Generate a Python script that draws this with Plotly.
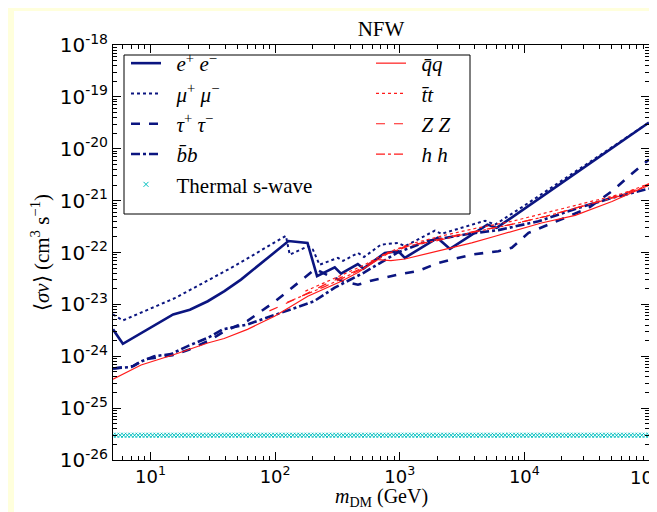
import numpy as np
import plotly.graph_objects as go

# ---------------- data ----------------
ee_x = [5, 6, 15.2, 20.7, 28.8, 39.2, 53.2, 128, 182, 217, 301, 338, 461, 511, 760, 970, 1100, 2010, 2530, 5050, 6000, 1e5]
ee_y = [3.3e-24, 1.74e-24, 6.4e-24, 7.9e-24, 1.15e-23, 1.8e-23, 3.0e-23, 1.66e-22, 1.53e-22, 3.5e-23, 5.2e-23, 3.9e-23,
        6.0e-23, 4.9e-23, 9.8e-23, 1.06e-22, 7.9e-23, 1.91e-22, 1.17e-22, 3.45e-22, 2.98e-22, 3.2e-20]

mu_x = [5, 6, 15.8, 46.7, 122, 131, 183, 201, 227, 319, 351, 463, 517, 708, 970, 1100, 1915, 2163, 4840, 5820, 1e4, 2.5e4, 1e5]
mu_y = [6.4e-24, 4.9e-24, 1.33e-23, 5.4e-23, 2.1e-22, 9.1e-23, 1.32e-22, 1.14e-22, 5.8e-23, 7.9e-23, 6.9e-23, 9.8e-23,
        8.2e-23, 1.42e-22, 1.53e-22, 1.32e-22, 2.64e-22, 2.29e-22, 4.1e-22, 3.45e-22, 8.0e-22, 3.5e-21, 3.2e-20]

tau_x = [5, 7.3, 8.9, 11.4, 15, 20.5, 28.8, 39, 60, 99, 183, 210, 274, 351, 462, 600, 970, 1400, 2040, 3780, 6190, 7930,
         10800, 15600, 22600, 32800, 50500, 69000, 1e5]
tau_y = [5.8e-25, 6.5e-25, 8.7e-25, 9.6e-25, 1.05e-24, 1.35e-24, 1.95e-24, 3.0e-24, 4.8e-24, 1.12e-23, 3.8e-23, 4.8e-23,
         3.5e-23, 2.8e-23, 2.4e-23, 2.9e-23, 3.75e-23, 4.4e-23, 6.3e-23, 9.1e-23, 1.06e-22, 1.23e-22, 2.39e-22, 3.45e-22,
         5.0e-22, 7.2e-22, 1.52e-21, 2.95e-21, 6.2e-21]

bb_x = [5, 7, 8.5, 10.7, 14.6, 19.9, 28.8, 38, 60, 99, 204, 301, 517, 964, 1660, 3600, 6200, 13000, 27000, 50000, 1e5]
bb_y = [5.8e-25, 6.2e-25, 8.0e-25, 1.0e-24, 1.1e-24, 1.57e-24, 2.26e-24, 3.3e-24, 4.1e-24, 6.3e-24, 1.14e-23, 2.1e-23,
        4.1e-23, 1.0e-22, 1.66e-22, 2.3e-22, 2.7e-22, 4.0e-22, 7.2e-22, 1.12e-21, 1.7e-21]

qq_x = [5, 8.4, 15.5, 28.8, 39, 60, 99, 183, 340, 462, 670, 850, 1100, 2036, 3780, 5820, 13700, 25600, 50500, 1e5]
qq_y = [3.6e-25, 6.8e-25, 1.08e-24, 1.8e-24, 2.2e-24, 3.3e-24, 5.9e-24, 1.44e-23, 2.8e-23, 4.1e-23, 7.3e-23, 7.0e-23,
        7.5e-23, 1.06e-22, 1.53e-22, 2.06e-22, 3.7e-22, 5.2e-22, 9.6e-22, 2.0e-21]

tt_x = [175, 300, 500, 800, 1200, 2200, 4000, 8000, 15000, 30000, 60000, 1e5]
tt_y = [1.8e-23, 3.2e-23, 5.5e-23, 1.0e-22, 1.45e-22, 2.1e-22, 2.9e-22, 4.0e-22, 5.8e-22, 8.8e-22, 1.35e-21, 2.1e-21]

zz_x = [90, 150, 250, 500, 700, 1100, 2000, 3800, 7500, 15000, 30000, 60000, 1e5]
zz_y = [7.5e-24, 1.3e-23, 2.4e-23, 5.0e-23, 8.5e-23, 1.3e-22, 1.78e-22, 2.5e-22, 3.4e-22, 5.0e-22, 8.0e-22, 1.3e-21, 2.1e-21]

hh_x = [125, 250, 500, 800, 1200, 2000, 4000, 8000, 15000, 30000, 60000, 1e5]
hh_y = [1.1e-23, 2.2e-23, 4.8e-23, 9.5e-23, 1.35e-22, 1.7e-22, 2.5e-22, 3.5e-22, 5.0e-22, 7.8e-22, 1.25e-21, 2.0e-21]

thermal_value = 3.0e-26
thermal_x = np.logspace(np.log10(5), 5, 150)   # marker grid for the constant line

x_tickvals = [10, 100, 1000, 1e4, 1e5]
x_ticktext = ["10<sup>1</sup>", "10<sup>2</sup>", "10<sup>3</sup>", "10<sup>4</sup>", ""]
x_last_label = "10<sup>5</sup>"   # drawn separately so it stays inside the page
y_tickvals = [1e-26, 1e-25, 1e-24, 1e-23, 1e-22, 1e-21, 1e-20, 1e-19, 1e-18]
y_ticktext = ["10<sup>-26</sup>", "10<sup>-25</sup>", "10<sup>-24</sup>", "10<sup>-23</sup>", "10<sup>-22</sup>",
              "10<sup>-21</sup>", "10<sup>-20</sup>", "10<sup>-19</sup>", "10<sup>-18</sup>"]

# minor tick positions (2..9 within each decade)
x_minor = [m * 10.0 ** e for e in range(0, 5) for m in range(2, 10) if 5 <= m * 10.0 ** e <= 1e5]
y_minor = [m * 10.0 ** e for e in range(-26, -18) for m in range(2, 10)]

PAD = "\u00a0\u00a0"
names = {
    "ee": PAD + "<i>e</i><sup>+</sup> <i>e</i><sup>−</sup>",
    "mu": PAD + "<i>μ</i><sup>+</sup> <i>μ</i><sup>−</sup>",
    "tau": PAD + "<i>τ</i><sup>+</sup> <i>τ</i><sup>−</sup>",
    "bb": PAD + "<i>b̄b</i>",
    "th": PAD + "Thermal s-wave",
    "qq": PAD + "<i>q̄q</i>",
    "tt": PAD + "<i>t̄t</i>",
    "zz": PAD + "<i>Z Z</i>",
    "hh": PAD + "<i>h h</i>",
}

NAVY = "#0b1580"
RED = "#ff1a1a"
CYAN = "#00bfbf"
SERIF = "Liberation Serif"

fig = go.Figure()

def add(x, y, name, color, width, dash, rank):
    fig.add_trace(go.Scatter(x=x, y=y, mode="lines", name=name, legendrank=rank,
                             line=dict(color=color, width=width, dash=dash)))

add(ee_x, ee_y, names["ee"], NAVY, 2.6, "solid", 1)
add(mu_x, mu_y, names["mu"], NAVY, 2.0, "dot", 3)
add(tau_x, tau_y, names["tau"], NAVY, 2.6, "dash", 5)
add(bb_x, bb_y, names["bb"], NAVY, 2.6, "dashdot", 7)
fig.add_trace(go.Scatter(x=thermal_x, y=[thermal_value] * len(thermal_x), mode="markers",
                         name=names["th"], legendrank=9,
                         marker=dict(symbol="x-thin-open", size=5, color=CYAN,
                                     line=dict(color=CYAN, width=1))))
add(qq_x, qq_y, names["qq"], RED, 1.2, "solid", 2)
add(tt_x, tt_y, names["tt"], RED, 1.2, "dot", 4)
add(zz_x, zz_y, names["zz"], RED, 1.2, "dash", 6)
add(hh_x, hh_y, names["hh"], RED, 1.2, "dashdot", 8)

# empty trace that registers the overlay axes used for the minor ticks
fig.add_trace(go.Scatter(x=[None], y=[None], xaxis="x2", yaxis="y2", showlegend=False,
                         hoverinfo="skip", mode="lines"))

W, H = 657, 512
L, R, T, B = 105, 641, 37, 452
pw, ph = R - L, B - T
XR = [np.log10(5), 5.0005]
YR = [-26, -18]

def px_x(p):
    return (p - L) / pw

def px_y(p):
    return (B - p) / ph

def major_axis(rng, vals, text, size):
    return dict(
        type="log", range=rng, showline=True, linecolor="black", linewidth=1, mirror="allticks",
        ticks="inside", ticklen=8, tickwidth=1, tickcolor="black", showgrid=False, zeroline=False,
        tickmode="array", tickvals=vals, ticktext=text, ticklabeloverflow="allow", automargin=False,
        tickfont=dict(family="DejaVu Sans", size=size, color="black"),
    )

def minor_axis(rng, vals, overlay, anchor):
    return dict(
        type="log", range=rng, overlaying=overlay, anchor=anchor, automargin=False,
        showline=True, linecolor="black", linewidth=1, mirror="allticks",
        ticks="inside", ticklen=4, tickwidth=1, tickcolor="black", showgrid=False, zeroline=False,
        tickmode="array", tickvals=vals, showticklabels=False,
    )

fig.update_layout(
    width=W, height=H,
    margin=dict(l=L, r=W - R, t=T, b=H - B, autoexpand=False),
    paper_bgcolor="#ffffdc",
    plot_bgcolor="white",
    title=dict(text="NFW", x=373 / W, xanchor="center",
               y=1 - 21 / H, yanchor="middle", font=dict(family=SERIF, size=21, color="black")),
    xaxis=major_axis(XR, x_tickvals, x_ticktext, 18),
    yaxis=dict(major_axis(YR, y_tickvals, y_ticktext, 20),
               title=dict(text="⟨<i>σv</i>⟩ (cm<sup>3</sup> s<sup>−1</sup>)", standoff=4,
                          font=dict(family=SERIF, size=21, color="black"))),
    xaxis2=minor_axis(XR, x_minor, "x", "y2"),
    yaxis2=minor_axis(YR, y_minor, "y", "x2"),
    legend=dict(orientation="h", x=px_x(118), y=px_y(35), xanchor="left", yanchor="top",
                entrywidth=200, entrywidthmode="pixels", bgcolor="rgba(0,0,0,0)",
                borderwidth=0, font=dict(family=SERIF, size=21, color="black"),
                traceorder="normal"),
    showlegend=True,
    annotations=[
        dict(text="<i>m</i><sub>DM</sub> (GeV)", xref="paper", yref="paper",
             x=px_x(373), y=px_y(489), xanchor="center", yanchor="middle", showarrow=False,
             font=dict(family=SERIF, size=20, color="black")),
        dict(text=x_last_label, xref="paper", yref="paper",
             x=px_x(655), y=px_y(468), xanchor="right", yanchor="middle", showarrow=False,
             font=dict(family="DejaVu Sans", size=18, color="black")),
    ],
    shapes=[
        dict(type="rect", xref="paper", yref="paper", layer="below",
             x0=px_x(6), x1=px_x(W + 10), y0=px_y(H + 10), y1=px_y(3),
             fillcolor="white", line=dict(width=0)),
        dict(type="rect", xref="paper", yref="paper", layer="above",
             x0=px_x(116), x1=px_x(462), y0=px_y(206), y1=px_y(47),
             fillcolor="rgba(0,0,0,0)", line=dict(color="black", width=1)),
    ],
)

fig.write_html("out.html")
